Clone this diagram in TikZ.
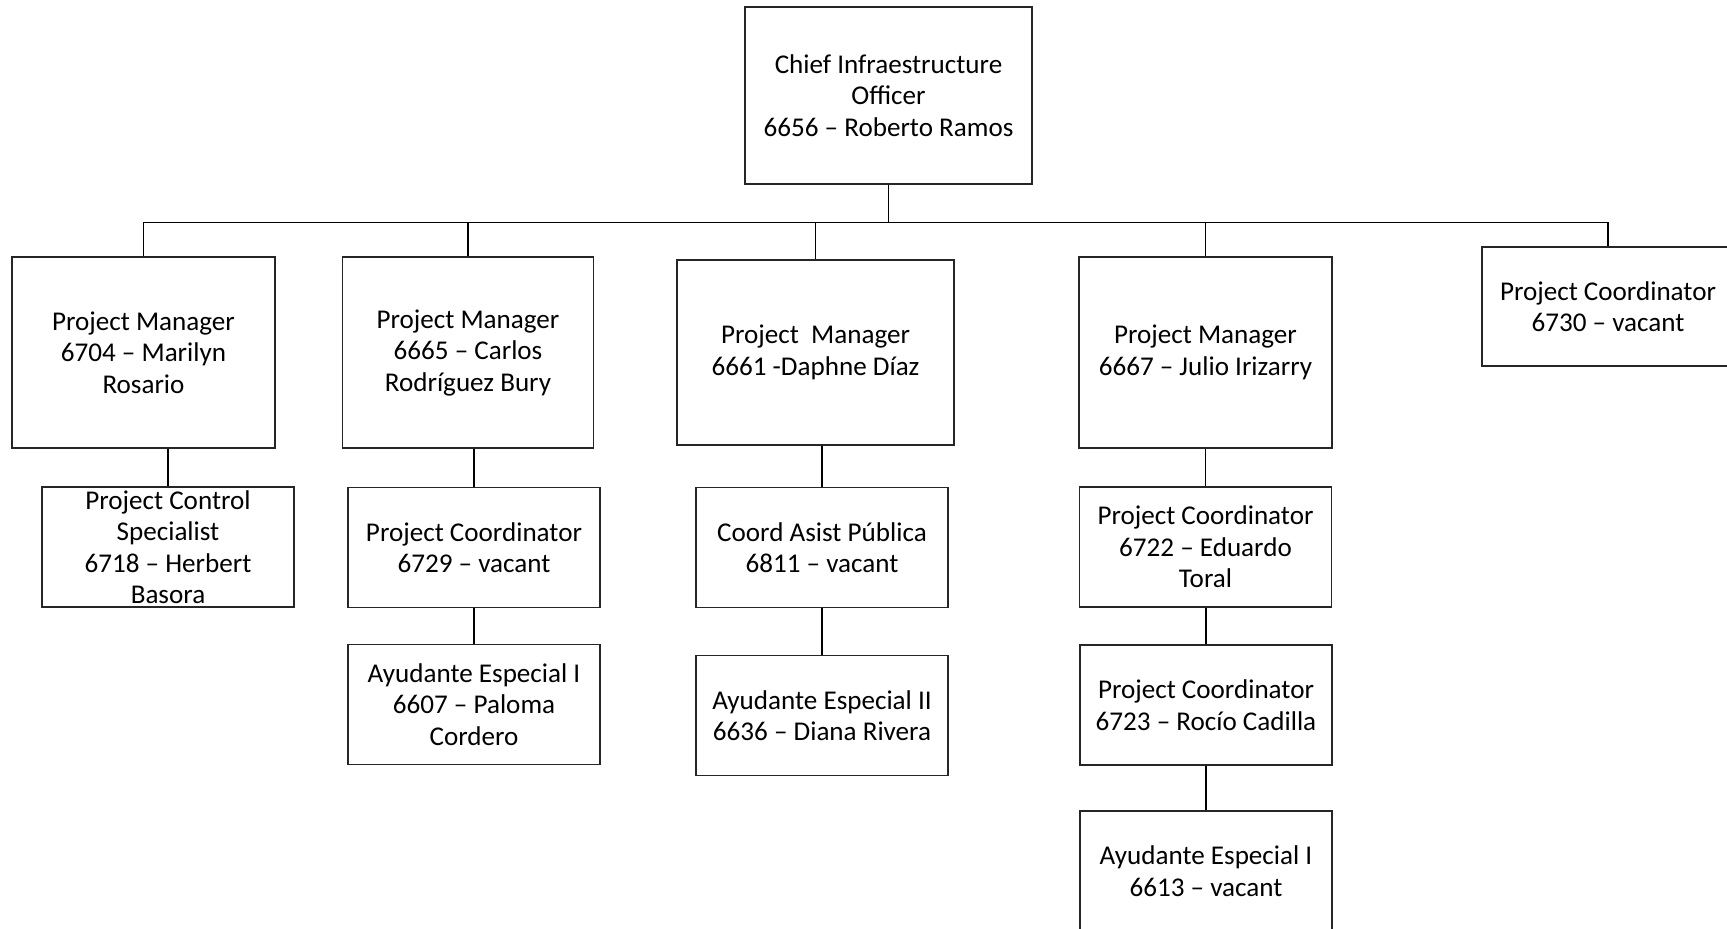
\documentclass[tikz,border=0pt]{standalone}
\usepackage{fontspec}
\setmainfont{Carlito}
\usepackage{tikz}
\usetikzlibrary{positioning}

\begin{document}
\begin{tikzpicture}[
    x=0.5pt, y=-0.5pt,
    box/.style={draw=black!85, line width=0.6pt, rectangle, minimum width=126pt, minimum height=60pt,
        inner sep=0pt, align=center, font=\fontsize{13.55pt}{15.75pt}\selectfont},
    boxtext/.style={align=center, inner sep=0pt, font=\fontsize{13.55pt}{15.75pt}\selectfont},
    link/.style={draw=black, line width=0.8pt}
]
    \useasboundingbox (0,0) rectangle (1727,928);

    % top
    \node[box, minimum width=143.5pt, minimum height=88.5pt] (cio) at (888.5,95.5)
        {Chief Infraestructure\\Officer\\6656 – Roberto Ramos};

    % managers
    \node[box, minimum width=131.5pt, minimum height=95.5pt] (pm1) at (143.5,352.5)
        {Project Manager\\6704 – Marilyn\\Rosario};
    \node[box, minimum width=125.5pt, minimum height=95.5pt] (pm2) at (468,352.5)
        {Project Manager\\6665 – Carlos\\Rodríguez Bury};
    \node[box, minimum width=138.5pt, minimum height=92.5pt] (pm3) at (815.5,352.5)
        {Project~~Manager\\6661 -Daphne Díaz};
    \node[box, minimum width=126.5pt, minimum height=95.5pt] (pm4) at (1205.5,352.5)
        {Project Manager\\6667 – Julio Irizarry};
    \node[box, minimum height=59.5pt] (pc5) at (1608,306.5)
        {Project Coordinator\\6730 – vacant};

    % second row
    \node[box, label={[boxtext]center:Project Control\\Specialist\\6718 – Herbert\\Basora}] (pcs) at (168,547) {};
    \node[box] (pc2) at (474,547.5) {Project Coordinator\\6729 – vacant};
    \node[box] (cap) at (822,547.5) {Coord Asist Pública\\6811 – vacant};
    \node[box] (pc4a) at (1205.5,547) {Project Coordinator\\6722 – Eduardo\\Toral};

    % third row
    \node[box] (ae2) at (474,704.5) {Ayudante Especial I\\6607 – Paloma\\Cordero};
    \node[box] (ae3) at (822,715.5) {Ayudante Especial II\\6636 – Diana Rivera};
    \node[box] (pc4b) at (1206,705) {Project Coordinator\\6723 – Rocío Cadilla};

    % fourth row
    \node[box] (ae4) at (1206,871) {Ayudante Especial I\\6613 – vacant};

    % links
    \coordinate (bus) at (888.5,222.5);
    \draw[link] (cio.south) -- (bus);
    \foreach \n in {pm1,pm2,pm3,pm4,pc5}
        \draw[link] (bus) -| (\n.north);

    \draw[link] (pm1.south -| pcs.north) -- (pcs.north);
    \draw[link] (pm2.south -| pc2.north) -- (pc2.north);
    \draw[link] (pm3.south -| cap.north) -- (cap.north);
    \draw[link] (pm4.south -| pc4a.north) -- (pc4a.north);
    \draw[link] (pc2.south) -- (ae2.north);
    \draw[link] (cap.south) -- (ae3.north);
    \draw[link] (pc4a.south -| pc4b.north) -- (pc4b.north);
    \draw[link] (pc4b.south) -- (ae4.north);
\end{tikzpicture}
\end{document}
